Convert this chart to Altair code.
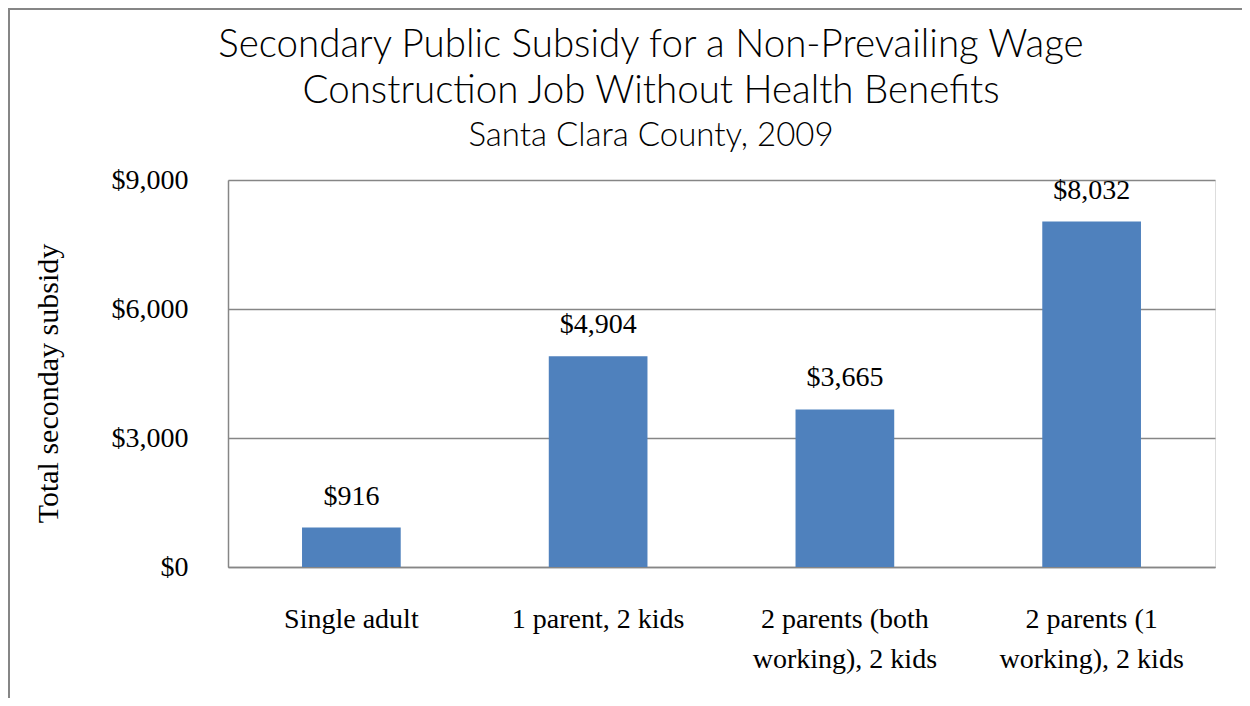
import altair as alt
import pandas as pd

categories = ["Single adult", "1 parent, 2 kids", "2 parents (both working), 2 kids", "2 parents (1 working), 2 kids"]
label_lines = [["Single adult"], ["1 parent, 2 kids"], ["2 parents (both", "working), 2 kids"], ["2 parents (1", "working), 2 kids"]]
values = [916, 4904, 3665, 8032]
value_labels = ["$916", "$4,904", "$3,665", "$8,032"]
y_ticks = [0, 3000, 6000, 9000]
title_lines = ["Secondary Public Subsidy for a Non-Prevailing Wage", "Construction Job Without Health Benefits"]
subtitle = "Santa Clara County, 2009"

df = pd.DataFrame({"cat": categories, "value": values, "label": value_labels})

label_expr = "{" + ", ".join(
    f"'{c}': {label_lines[i]!r}" for i, c in enumerate(categories)
) + "}[datum.value]"

serif = "Liberation Serif"
title_font = "Lato"
fs = 28

x_enc = alt.X("cat:N", sort=categories,
              scale=alt.Scale(paddingInner=0.6, paddingOuter=0.3),
              axis=alt.Axis(title=None, labelAngle=0, labelExpr=label_expr,
                            labelFont=serif, labelFontSize=fs, labelColor="#000",
                            labelPadding=60, labelLineHeight=40, labelBaseline="alphabetic",
                            labelLimit=1000,
                            ticks=False, domainColor="#868686", domainWidth=1.5))

bars = alt.Chart(df).mark_bar(color="#4F81BD").encode(
    x=x_enc,
    y=alt.Y("value:Q", scale=alt.Scale(domain=[0, 9000], nice=False),
            axis=alt.Axis(title="Total seconday subsidy", values=y_ticks,
                          format="$,.0f", labelFont=serif, labelFontSize=fs,
                          labelColor="#000", labelPadding=40, ticks=False,
                          titleFont=serif, titleFontSize=30, titleFontWeight="normal",
                          titleColor="#000", titleX=-171, titleY=203, titleAngle=-90,
                          titleAlign="center", titleBaseline="alphabetic",
                          grid=True, gridColor="#868686", gridWidth=1.3,
                          domainColor="#868686", domainWidth=1.5)),
)

text = alt.Chart(df).mark_text(font=serif, fontSize=fs, color="#000",
                               baseline="alphabetic", dy=-23).encode(
    x=alt.X("cat:N", sort=categories),
    y="value:Q",
    text="label:N",
)

border = alt.Chart(df).mark_rect(fill=None, stroke="#868686", strokeWidth=2).encode(
    x=alt.value(-219), x2=alt.value(1250),
    y=alt.value(-171), y2=alt.value(600),
)

tdf = pd.DataFrame({"t": [0]})
t1 = alt.Chart(tdf).mark_text(text=title_lines[0], font=title_font, fontSize=38.5, fontWeight=300,
                              color="#000", baseline="alphabetic", align="center").encode(
    x=alt.value(423), y=alt.value(-123))
t2 = alt.Chart(tdf).mark_text(text=title_lines[1], font=title_font, fontSize=38.5, fontWeight=300,
                              color="#000", baseline="alphabetic", align="center").encode(
    x=alt.value(423), y=alt.value(-77))
t3 = alt.Chart(tdf).mark_text(text=subtitle, font=title_font, fontSize=33, fontWeight=300,
                              color="#000", baseline="alphabetic", align="center").encode(
    x=alt.value(423), y=alt.value(-34))

chart = alt.layer(border, bars, text, t1, t2, t3).properties(
    width=987, height=387,
    autosize=alt.AutoSizeParams(type="none"),
    padding={"left": 220, "top": 172, "right": 27, "bottom": 131},
).configure_view(stroke=None).configure(background="white")

chart.save("out.html", embed_options={"renderer": "svg", "actions": False})
